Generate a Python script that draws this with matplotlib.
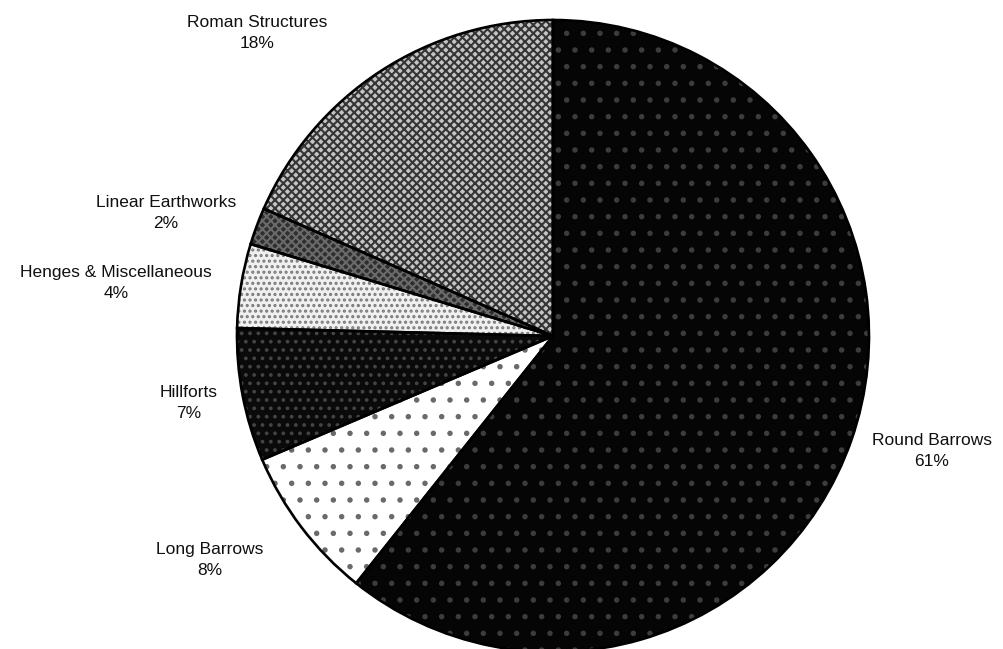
import matplotlib
matplotlib.use("Agg")
import matplotlib.pyplot as plt

categories = ["Round Barrows", "Long Barrows", "Hillforts",
              "Henges & Miscellaneous", "Linear Earthworks", "Roman Structures"]
values = [60.7, 7.9, 6.8, 4.3, 1.9, 18.4]

# styles (face colour, hatch colour, hatch)
faces = ["#050505", "#ffffff", "#0a0a0a", "#f0f0f0", "#2e2e2e", "#c4c4c4"]
hatch_cols = ["#3c3c3c", "#6a6a6a", "#444444", "#7a7a7a", "#6a6a6a", "#353535"]
hatches = [".", ".", "..", "...", "xxxx", "xxxx"]

# label centres in pixels (layout)
label_px = [(932, 451), (210, 560), (189, 403), (116, 283), (166, 213), (257, 33)]

W, H = 1004, 649
plt.rcParams["hatch.linewidth"] = 1.5
fig = plt.figure(figsize=(W / 100, H / 100), dpi=100)
cx, cy, r = 553, 336, 316
ax = fig.add_axes([(cx - r) / W, 1 - (cy + r) / H, 2 * r / W, 2 * r / H])

wedges, _ = ax.pie(values, startangle=90, counterclock=False, radius=1,
                   colors=faces, wedgeprops=dict(linewidth=0))
for w, hc, h in zip(wedges, hatch_cols, hatches):
    w.set_edgecolor(hc)
    w.set_linewidth(0)
    w.set_hatch(h)

ax.pie(values, startangle=90, counterclock=False, radius=1,
       wedgeprops=dict(fill=False, edgecolor="#000000", linewidth=1.9))
ax.set_xlim(-1, 1)
ax.set_ylim(-1, 1)
ax.set_axis_off()

for name, v, (px, py) in zip(categories, values, label_px):
    fig.text(px / W, 1 - py / H, f"{name}\n{v:.0f}%", ha="center", va="center",
             fontsize=12.5, family=["Liberation Sans", "DejaVu Sans"],
             color="#101010", linespacing=1.5)

fig.savefig("out.png", dpi=100, facecolor="white")
